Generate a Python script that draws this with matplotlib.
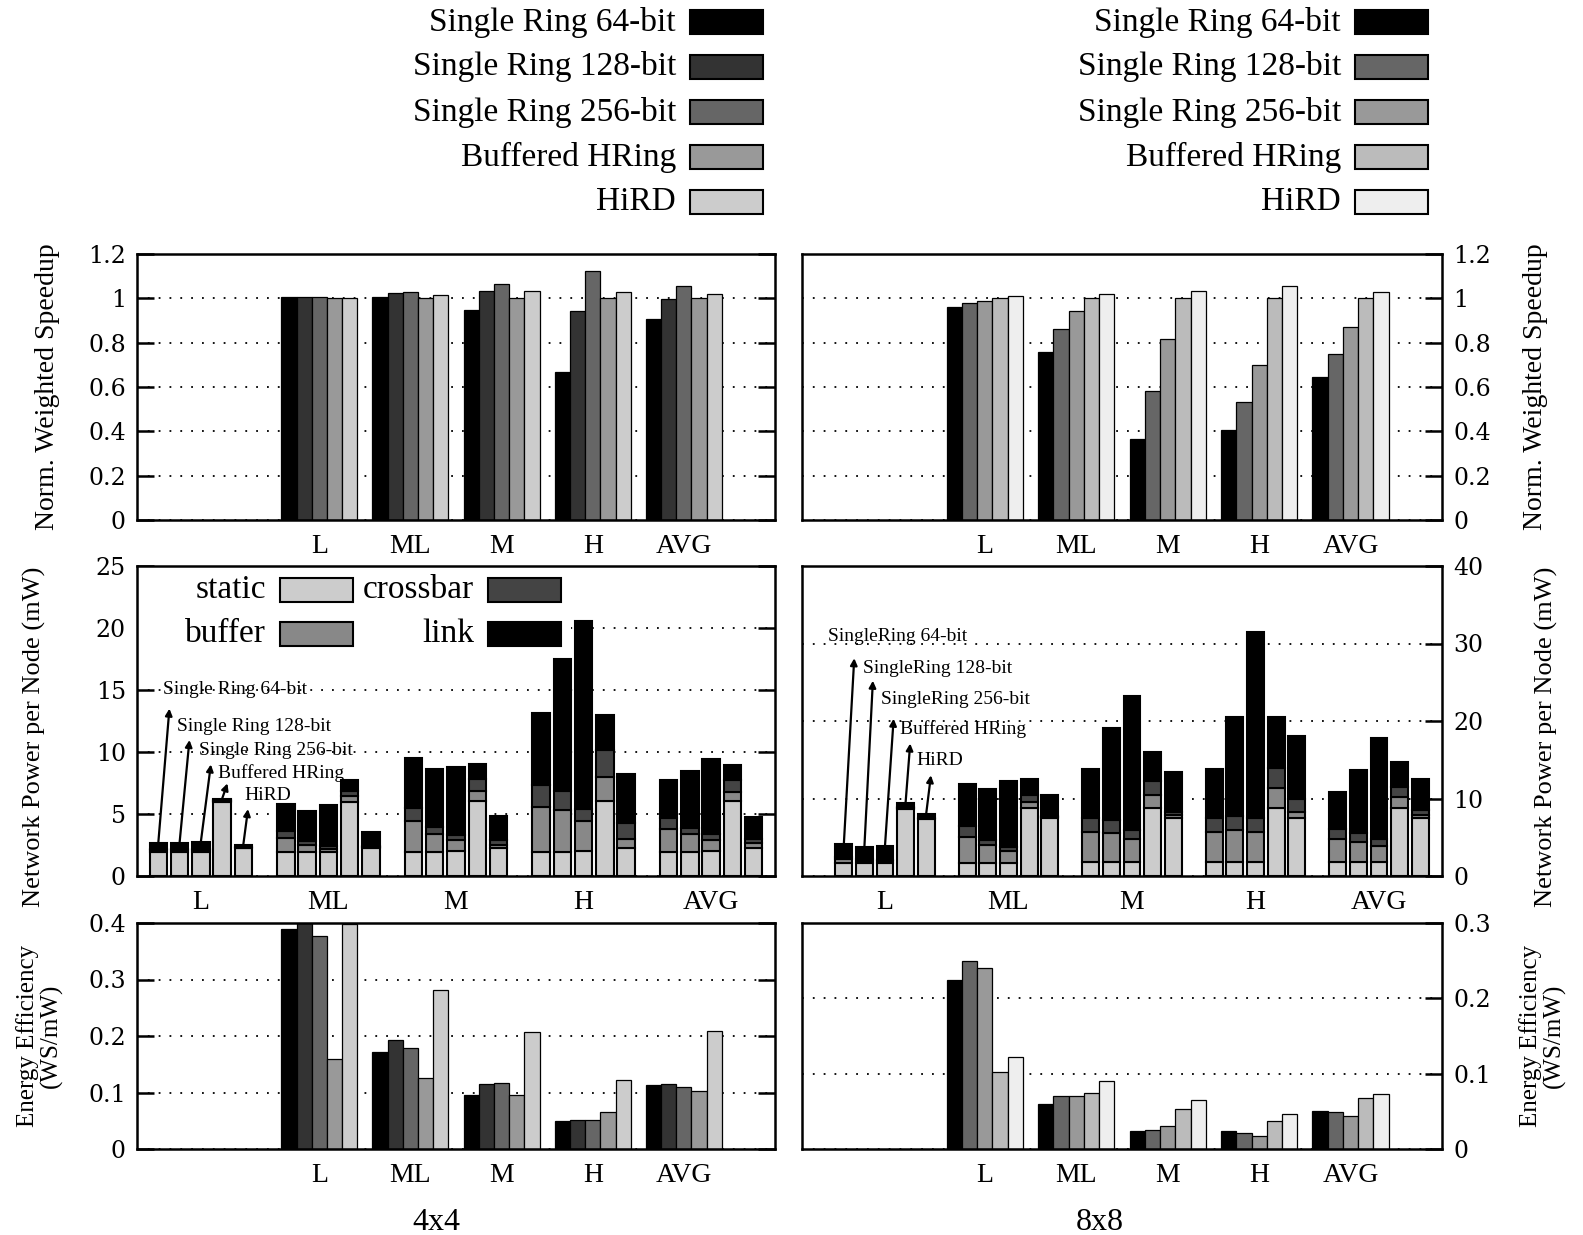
import numpy as np
import matplotlib.pyplot as plt
from matplotlib.patches import Rectangle

plt.rcParams['font.family'] = ['Liberation Serif', 'DejaVu Serif']
plt.rcParams['axes.linewidth'] = 1.8

groups = ['L', 'ML', 'M', 'H', 'AVG']
designs = ['Single Ring 64-bit', 'Single Ring 128-bit', 'Single Ring 256-bit',
           'Buffered HRing', 'HiRD']
designs_8x8_short = ['SingleRing 64-bit', 'SingleRing 128-bit', 'SingleRing 256-bit',
                     'Buffered HRing', 'HiRD']
components = ['static', 'buffer', 'crossbar', 'link']

# normalized weighted speedup (row = design, col = group)
ws_4x4 = [[1.006, 1.006, 0.946, 0.666, 0.905],
          [1.006, 1.023, 1.035, 0.944, 0.998],
          [1.006, 1.027, 1.063, 1.123, 1.054],
          [1.000, 1.000, 1.000, 1.000, 1.000],
          [1.003, 1.015, 1.033, 1.027, 1.021]]
ws_8x8 = [[0.961, 0.759, 0.367, 0.404, 0.643],
          [0.979, 0.861, 0.580, 0.532, 0.751],
          [0.986, 0.944, 0.818, 0.700, 0.869],
          [1.000, 1.000, 1.000, 1.000, 1.000],
          [1.011, 1.021, 1.032, 1.054, 1.027]]

# network power per node, mW, split into components
static_4x4 = [[1.92, 1.92, 1.92, 1.92, 1.92],
              [1.92, 1.92, 1.92, 1.92, 1.92],
              [1.92, 1.92, 2.00, 2.00, 2.00],
              [5.95, 5.95, 6.03, 6.03, 6.03],
              [2.22, 2.22, 2.27, 2.27, 2.27]]
buffer_4x4 = [[0.15, 1.16, 2.50, 3.63, 1.88],
              [0.15, 0.62, 1.43, 3.44, 1.43],
              [0.15, 0.27, 0.89, 2.42, 0.94],
              [0.08, 0.49, 0.81, 1.94, 0.73],
              [0.05, 0.08, 0.27, 0.73, 0.40]]
crossbar_4x4 = [[0.10, 0.54, 1.08, 1.78, 0.84],
                [0.10, 0.32, 0.62, 1.48, 0.54],
                [0.10, 0.22, 0.38, 1.02, 0.41],
                [0.07, 0.40, 1.02, 2.18, 0.97],
                [0.05, 0.10, 0.40, 1.29, 0.35]]
link_4x4 = [[0.47, 2.15, 4.03, 5.83, 3.14],
            [0.47, 2.37, 4.62, 10.62, 4.56],
            [0.55, 3.30, 5.51, 15.11, 6.05],
            [0.12, 0.94, 1.19, 2.82, 1.21],
            [0.22, 1.16, 1.89, 3.92, 1.75]]

static_8x8 = [[1.70, 1.70, 1.76, 1.76, 1.76],
              [1.70, 1.70, 1.76, 1.76, 1.76],
              [1.70, 1.70, 1.76, 1.76, 1.76],
              [8.70, 8.73, 8.82, 8.82, 8.82],
              [7.40, 7.44, 7.44, 7.44, 7.44]]
buffer_8x8 = [[0.50, 3.38, 3.96, 3.96, 3.01],
              [0.30, 2.30, 3.74, 4.18, 2.58],
              [0.20, 1.53, 2.97, 3.96, 2.15],
              [0.10, 0.87, 1.63, 2.48, 1.42],
              [0.05, 0.16, 0.43, 0.86, 0.43]]
crossbar_8x8 = [[0.30, 1.37, 1.72, 1.72, 1.25],
                [0.20, 0.65, 1.73, 1.80, 1.16],
                [0.20, 0.55, 1.21, 1.72, 0.82],
                [0.10, 0.85, 1.81, 2.70, 1.29],
                [0.05, 0.10, 0.43, 1.60, 0.65]]
link_8x8 = [[1.60, 5.38, 6.32, 6.36, 4.86],
            [1.60, 6.53, 11.91, 12.73, 8.18],
            [1.80, 8.48, 17.29, 24.00, 13.03],
            [0.55, 2.02, 3.78, 6.56, 3.14],
            [0.50, 2.75, 5.08, 8.20, 4.00]]

# energy efficiency, WS/mW
ee_4x4 = [[0.389, 0.1725, 0.0947, 0.0497, 0.114],
          [0.400, 0.1936, 0.1158, 0.0515, 0.1158],
          [0.377, 0.1795, 0.1164, 0.0520, 0.110],
          [0.160, 0.1263, 0.0959, 0.0660, 0.1023],
          [0.398, 0.2813, 0.2070, 0.1216, 0.2088]]
ee_8x8 = [[0.2247, 0.0595, 0.0233, 0.0233, 0.0511],
          [0.2502, 0.0709, 0.0256, 0.0207, 0.0489],
          [0.2405, 0.0709, 0.0308, 0.0176, 0.0432],
          [0.1026, 0.0749, 0.0533, 0.0366, 0.0674],
          [0.1225, 0.0903, 0.0652, 0.0463, 0.0727]]

colors_4x4 = ['#000000', '#333333', '#666666', '#999999', '#cccccc']
colors_8x8 = ['#000000', '#666666', '#999999', '#bbbbbb', '#eeeeee']
comp_colors = ['#cccccc', '#888888', '#444444', '#000000']

W, H = 1583, 1235
fig = plt.figure(figsize=(W / 100, H / 100), dpi=100)


def px_axes(x0, y0, x1, y1):
    return fig.add_axes([x0 / W, 1 - y1 / H, (x1 - x0) / W, (y1 - y0) / H])


def style(ax, yticks, right):
    ax.set_yticks(yticks)
    ax.set_yticklabels(['%g' % t for t in yticks], family='DejaVu Serif', fontsize=17)
    ax.set_ylim(yticks[0], yticks[-1])
    ax.set_xticks(range(5))
    ax.set_xticklabels(groups, fontsize=20)
    ax.tick_params(axis='x', length=0, pad=10)
    if right:
        ax.yaxis.tick_right()
        ax.yaxis.set_label_position('right')
        ax.tick_params(axis='y', direction='in', length=12, width=1.8, right=True, left=False, pad=8)
    else:
        ax.tick_params(axis='y', direction='in', length=12, width=1.8, right=True, left=True, pad=8)
    ax.yaxis.grid(True, color='black', linestyle=(0, (1, 5)), linewidth=1.3)
    ax.set_axisbelow(True)


def plain_bars(ax, data, colors):
    for k in range(5):
        x = np.arange(5) + (k - 2) / 6
        ax.bar(x, data[k], width=1 / 6, color=colors[k], edgecolor='black', linewidth=0.9, zorder=2)
    ax.set_xlim(-2, 5)


def stacked_bars(ax, parts, xlim):
    for k in range(5):
        x = np.arange(5) + (k - 2) / 6
        bottom = np.zeros(5)
        for comp, col in zip(parts, comp_colors):
            vals = np.array(comp[k])
            ax.bar(x, vals, width=0.137, bottom=bottom, color=col, edgecolor='black',
                   linewidth=1.5, zorder=2)
            bottom = bottom + vals
    ax.set_xlim(*xlim)


# top row: weighted speedup
ax1 = px_axes(137, 254, 775, 520)
plain_bars(ax1, ws_4x4, colors_4x4)
style(ax1, [0, 0.2, 0.4, 0.6, 0.8, 1, 1.2], False)
ax1.set_ylabel('Norm. Weighted Speedup', fontsize=20)
ax1.yaxis.set_label_coords(-0.121, 0.5)

ax2 = px_axes(802, 254, 1442, 520)
plain_bars(ax2, ws_8x8, colors_8x8)
style(ax2, [0, 0.2, 0.4, 0.6, 0.8, 1, 1.2], True)
ax2.set_ylabel('Norm. Weighted Speedup', fontsize=20)
ax2.yaxis.set_label_coords(1.127, 0.5)

# middle row: network power
ax3 = px_axes(137, 566, 775, 876)
stacked_bars(ax3, [static_4x4, buffer_4x4, crossbar_4x4, link_4x4], (-0.5, 4.5))
style(ax3, [0, 5, 10, 15, 20, 25], False)
ax3.set_ylabel('Network Power per Node (mW)', fontsize=19)
ax3.yaxis.set_label_coords(-0.143, 0.45)

ax4 = px_axes(802, 566, 1442, 876)
stacked_bars(ax4, [static_8x8, buffer_8x8, crossbar_8x8, link_8x8], (-0.672, 4.51))
style(ax4, [0, 10, 20, 30, 40], True)
ax4.set_ylabel('Network Power per Node (mW)', fontsize=19)
ax4.yaxis.set_label_coords(1.145, 0.45)

# in-panel key for the power components (white box hides the grid)
ax3.add_patch(Rectangle((0, 0.73), 0.68, 0.27, transform=ax3.transAxes,
                        facecolor='white', edgecolor='none', zorder=1.5))
key_rows = [(590, [(266, 280, 'static', 0), (474, 488, 'crossbar', 2)]),
            (634, [(266, 280, 'buffer', 1), (474, 488, 'link', 3)])]
for yc, entries in key_rows:
    for tx, sx, name, ci in entries:
        fig.text(tx / W, 1 - yc / H, name, ha='right', va='center', fontsize=24)
        fig.add_artist(Rectangle((sx / W, 1 - (yc + 12) / H), 73 / W, 24 / H,
                                 transform=fig.transFigure, facecolor=comp_colors[ci],
                                 edgecolor='black', linewidth=1.5))

# arrow annotations naming the bars of the L group
ann_text_4x4 = [(-0.293, 15.06), (-0.183, 12.04), (-0.011, 10.16), (0.131, 8.33), (0.34, 6.53)]
ann_head_4x4 = [(-0.246, 13.5), (-0.089, 10.97), (0.079, 9.0), (0.209, 7.47), (0.37, 5.4)]
ann_text_8x8 = [(-0.462, 30.9), (-0.182, 26.8), (-0.030, 22.8), (0.121, 19.0), (0.254, 14.9)]
ann_head_8x8 = [(-0.249, 28.1), (-0.098, 25.2), (0.07, 20.3), (0.204, 17.1), (0.372, 13.0)]

for ax, names, txt, heads, parts in [
        (ax3, designs, ann_text_4x4, ann_head_4x4, [static_4x4, buffer_4x4, crossbar_4x4, link_4x4]),
        (ax4, designs_8x8_short, ann_text_8x8, ann_head_8x8, [static_8x8, buffer_8x8, crossbar_8x8, link_8x8])]:
    for k in range(5):
        top = sum(p[k][0] for p in parts)
        ax.text(txt[k][0], txt[k][1], names[k], fontsize=14, ha='left', va='center', zorder=4)
        ax.annotate('', xy=heads[k], xytext=((k - 2) / 6, top),
                    arrowprops=dict(arrowstyle='-|>', color='black', lw=1.6,
                                    mutation_scale=10, shrinkA=0, shrinkB=0), zorder=4)

# bottom row: energy efficiency
ax5 = px_axes(137, 923, 775, 1149)
plain_bars(ax5, ee_4x4, colors_4x4)
style(ax5, [0, 0.1, 0.2, 0.3, 0.4], False)
ax5.set_ylabel('Energy Efficiency\n(WS/mW)', fontsize=18, linespacing=1.05)
ax5.yaxis.set_label_coords(-0.116, 0.5)

ax6 = px_axes(802, 923, 1442, 1149)
plain_bars(ax6, ee_8x8, colors_8x8)
style(ax6, [0, 0.1, 0.2, 0.3], True)
ax6.set_ylabel('Energy Efficiency\n(WS/mW)', fontsize=18, linespacing=1.05)
ax6.yaxis.set_label_coords(1.12, 0.5)

# top keys
for txt_right, sw_left, colors in [(676, 690, colors_4x4), (1341, 1355, colors_8x8)]:
    for k, name in enumerate(designs):
        yc = 22 + 45 * k
        fig.text(txt_right / W, 1 - yc / H, name, ha='right', va='center', fontsize=24)
        fig.add_artist(Rectangle((sw_left / W, 1 - (yc + 12) / H), 73 / W, 24 / H,
                                 transform=fig.transFigure, facecolor=colors[k],
                                 edgecolor='black', linewidth=1.5))

fig.text(436 / W, 1 - 1222 / H, '4x4', ha='center', va='center', fontsize=23)
fig.text(1100 / W, 1 - 1222 / H, '8x8', ha='center', va='center', fontsize=23)

fig.savefig('out.png', dpi=100)
